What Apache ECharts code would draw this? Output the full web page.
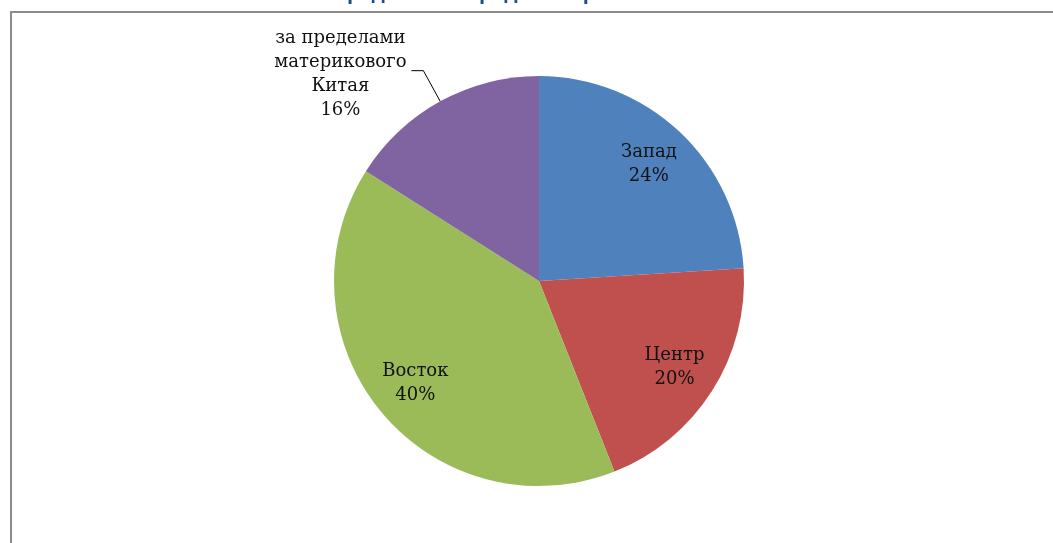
<!DOCTYPE html>
<html>
<head>
<meta charset="utf-8">
<script src="https://cdn.jsdelivr.net/npm/echarts@6/dist/echarts.min.js"></script>
<style>
  html, body { margin: 0; padding: 0; background: #fff; }
  #chart { width: 1053px; height: 543px; }
</style>
</head>
<body>
<div id="chart"></div>
<script>
// Region shares, clockwise from 12 o'clock
const regions = ['Запад', 'Центр', 'Восток', 'за пределами\nматерикового\nКитая'];
const shares = [24, 20, 40, 16];
const colors = ['#4F81BD', '#C0504D', '#9BBB59', '#8064A2'];
const titleText = 'Распределение продаж по регионам Китая';

const pieData = regions.map((name, i) => ({
  name: name,
  value: shares[i],
  itemStyle: { color: colors[i] }
}));

const labelFont = {
  fontFamily: 'DejaVu Serif',
  fontSize: 18,
  lineHeight: 24,
  color: '#111'
};

const chart = echarts.init(document.getElementById('chart'));
chart.setOption({
  animation: false,
  backgroundColor: '#fff',
  title: {
    text: titleText,
    left: 'center',
    top: -22,
    textStyle: {
      fontFamily: 'Open Sans',
      fontWeight: 'bold',
      fontSize: 20,
      color: '#1F4E8C'
    }
  },
  graphic: [{
    type: 'rect',
    shape: { x: 11, y: 12, width: 1100, height: 600 },
    style: { fill: 'none', stroke: '#8C8C8C', lineWidth: 2 },
    silent: true
  }],
  series: [
    {
      // coloured slices; the outside label for the last slice
      type: 'pie',
      center: [539, 281],
      radius: 205,
      startAngle: 90,
      clockwise: true,
      data: pieData.map((d, i) => Object.assign({}, d, {
        label: i === 3 ? {
          show: true,
          position: 'outside',
          formatter: '{t|{b}\n{c}%}',
          distanceToLabelLine: 3,
          padding: [8, 0, 0, 0],
          rich: { t: Object.assign({ width: 136, align: 'center' }, labelFont) }
        } : { show: false },
        labelLine: i === 3 ? {
          show: true,
          length: 35,
          length2: 12,
          lineStyle: { color: '#000', width: 1 }
        } : { show: false }
      })),
      emphasis: { disabled: true }
    },
    {
      // transparent ring carrying the inside labels further out toward the rim
      type: 'pie',
      center: [539, 281],
      radius: [110, 205],
      startAngle: 90,
      clockwise: true,
      silent: true,
      itemStyle: { color: 'rgba(0,0,0,0)' },
      data: pieData.map((d, i) => ({
        name: d.name,
        value: d.value,
        label: i === 3 ? { show: false } : {
          show: true,
          position: 'inside',
          formatter: '{b}\n{c}%',
          ...labelFont
        }
      })),
      labelLine: { show: false },
      emphasis: { disabled: true }
    }
  ]
});
</script>
</body>
</html>
